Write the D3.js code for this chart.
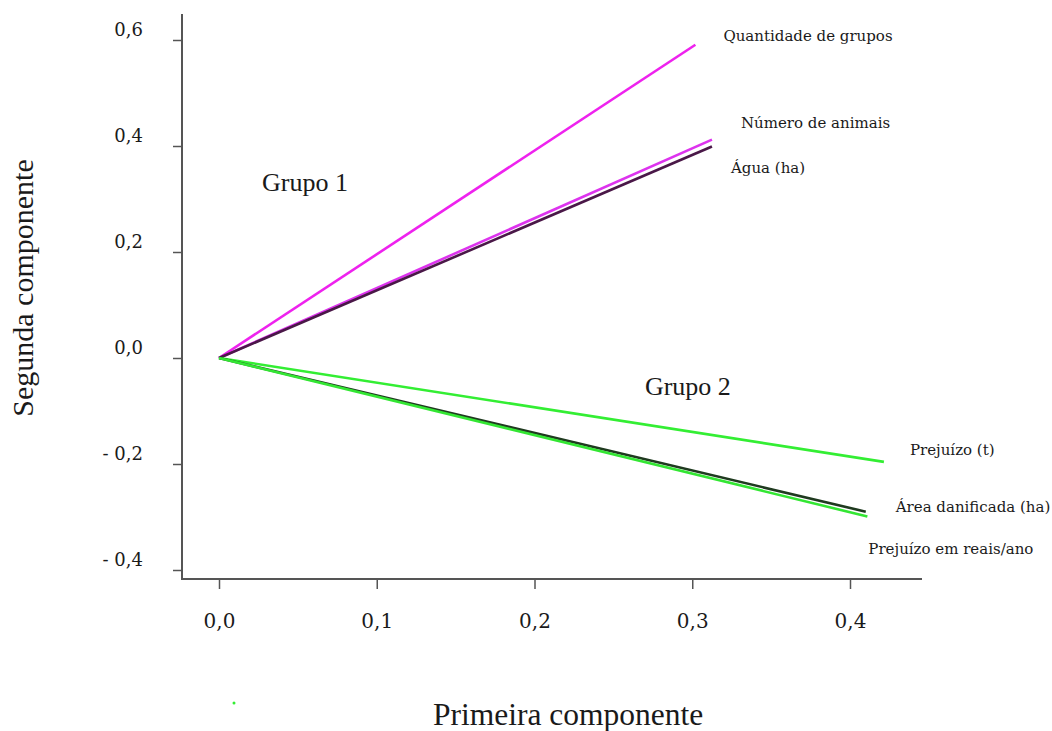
<!DOCTYPE html>
<html><head><meta charset="utf-8">
<script src="https://cdn.jsdelivr.net/npm/d3@7"></script>
<style>body{margin:0;background:#fff}svg{display:block}svg text{fill:#1a1a1a}</style>
</head><body><svg id="c" width="1052" height="731"></svg>
<script>
const variables = ["Quantidade de grupos","Número de animais","Água (ha)","Prejuízo (t)","Área danificada (ha)","Prejuízo em reais/ano"];
const pc1 = [0.302, 0.3125, 0.3125, 0.4215, 0.410, 0.411];
const pc2 = [0.591, 0.412, 0.399, -0.196, -0.290, -0.299];
const lineColors = ["#ee22ee","#dd33ee","#4a1848","#33ee33","#1f3a1f","#33e633"];
const xTicks = [0, 0.1, 0.2, 0.3, 0.4];
const yTicks = [-0.4, -0.2, 0, 0.2, 0.4, 0.6];
const xTickLabels = ["0,0","0,1","0,2","0,3","0,4"];
const yTickLabels = ["- 0,4","- 0,2","0,0","0,2","0,4","0,6"];
const groupNames = ["Grupo 1","Grupo 2"];
const groupPos = [[0.0273,0.315],[0.27,-0.07]];
const labelOffsets = [[28,-4],[29,-12],[19,26],[26,-7],[30,0],[1,38]];

const times = '"Liberation Serif","Times New Roman",serif';
const wide = '"DejaVu Serif",serif';
const svg = d3.select("#c");
const x = d3.scaleLinear().domain([0,0.4]).range([219,850]);
const y = d3.scaleLinear().domain([0,0.6]).range([358,40]);

// y axis
const yAxis = d3.axisLeft(y).tickValues(yTicks).tickSize(9).tickFormat((d,i)=>yTickLabels[i]);
const gy = svg.append("g").attr("transform","translate(182,0)").call(yAxis).attr("font-family",wide).attr("font-size",18);
gy.select(".domain").remove();
gy.selectAll(".tick line").attr("stroke","#555").attr("stroke-width",1.5);
gy.selectAll(".tick text").attr("x",-39).attr("dy",-5).attr("fill","#1a1a1a");
svg.append("line").attr("x1",182).attr("x2",182).attr("y1",14).attr("y2",579).attr("stroke","#555").attr("stroke-width",2);

// x axis
const xAxis = d3.axisBottom(x).tickValues(xTicks).tickSize(9).tickFormat((d,i)=>xTickLabels[i]);
const gx = svg.append("g").attr("transform","translate(0,580)").call(xAxis).attr("font-family",wide).attr("font-size",20);
gx.select(".domain").remove();
gx.selectAll(".tick line").attr("stroke","#555").attr("stroke-width",1.5);
gx.selectAll(".tick text").attr("y",48).attr("dy",0).attr("fill","#1a1a1a");
svg.append("line").attr("x1",181).attr("x2",922).attr("y1",579).attr("y2",579).attr("stroke","#555").attr("stroke-width",2);

// vectors
variables.forEach((v,i)=>{
  svg.append("line").attr("x1",x(0)).attr("y1",y(0)).attr("x2",x(pc1[i])).attr("y2",y(pc2[i]))
    .attr("stroke",lineColors[i]).attr("stroke-width",2.6);
  svg.append("text").attr("x",x(pc1[i])+labelOffsets[i][0]).attr("y",y(pc2[i])+labelOffsets[i][1])
    .attr("font-family",wide).attr("font-size","15px").text(v);
});

groupNames.forEach((g,i)=>{
  svg.append("text").attr("x",x(groupPos[i][0])).attr("y",y(groupPos[i][1]))
    .attr("font-family",times).attr("font-size","26px").text(g);
});

svg.append("text").attr("transform","translate(33,288) rotate(-90)").attr("text-anchor","middle")
  .attr("font-family",times).attr("font-size","30px").text("Segunda componente");
svg.append("text").attr("x",433).attr("y",725)
  .attr("font-family",times).attr("font-size","31.5px").text("Primeira componente");
svg.append("circle").attr("cx",234).attr("cy",703).attr("r",1.5).attr("fill","#33ee33");
</script></body></html>
